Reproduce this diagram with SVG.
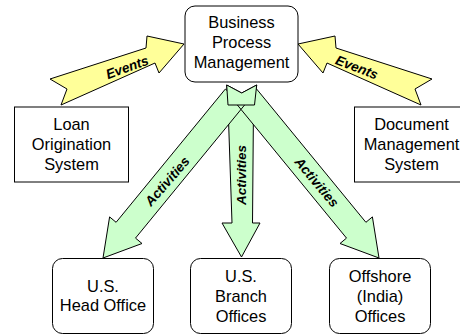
<svg xmlns="http://www.w3.org/2000/svg" width="460" height="335" viewBox="0 0 460 335">
<style>
.box{fill:#ffffff;stroke:#000000;stroke-width:1}
.t{font-family:"Liberation Sans",Arial,sans-serif;font-size:16.4px;fill:#000000;text-anchor:middle}
.lbl{font-family:"Liberation Sans",Arial,sans-serif;font-size:13.5px;font-weight:bold;font-style:italic;fill:#000000;text-anchor:middle}
.ev{fill:#ffff99;stroke:#000000;stroke-width:1;stroke-linejoin:miter}
.ac{fill:#ccffcc;stroke:#000000;stroke-width:1;stroke-linejoin:miter}
</style>
<rect width="460" height="335" fill="#ffffff"/>
<g id="connectors">
  <g id="events-left">
    <polygon class="ev" points="50,79 146,48 147,36 184,44 159,73 155,63 61,105 67,89"/>
    <text class="lbl" transform="translate(127,67) rotate(-20)" y="5">Events</text>
  </g>
  <g id="events-right">
    <polygon class="ev" points="432,79 336,48 335,36 298,44 323,73 327,63 421,105 415,89"/>
    <text class="lbl" transform="translate(357,67) rotate(21)" y="5">Events</text>
  </g>
  <g id="activities-middle">
    <polygon class="ac" points="226.7,85 241.7,93 256.7,85 253.5,105 252.5,223 260,223 241.5,257 222,223 232,223 228,105"/>
  </g>
  <g id="activities-left">
    <polygon class="ac" points="225.3,89.1 244.7,104.9 135.5,238.1 142,243.5 103,258 109.6,216.9 116.1,222.3"/>
  </g>
  <g id="activities-right">
    <polygon class="ac" points="256.7,89.1 237.3,104.9 346.5,238.1 340,243.5 379,258 372.4,216.9 365.9,222.3"/>
  </g>
  <line x1="241" y1="109.4" x2="244.7" y2="104.9" stroke="#000" stroke-width="1"/>
  <polygon class="ac" points="226.7,85 241.7,93 256.7,85 254.5,105 228,105"/>
  <text class="lbl" transform="translate(167,181) rotate(-49)" y="5">Activities</text>
  <text class="lbl" transform="translate(241,175) rotate(-90)" y="5">Activities</text>
  <text class="lbl" transform="translate(317,182) rotate(50)" y="5">Activities</text>
</g>
<g id="bpm">
  <rect class="box" x="185" y="6" width="113" height="76" rx="10"/>
  <text class="t" x="241.5" y="28">Business</text>
  <text class="t" x="241.5" y="48">Process</text>
  <text class="t" x="241.5" y="68">Management</text>
</g>
<g id="loan">
  <rect class="box" x="14.5" y="107" width="114" height="75"/>
  <text class="t" x="71.5" y="130">Loan</text>
  <text class="t" x="71.5" y="150">Origination</text>
  <text class="t" x="71.5" y="170">System</text>
</g>
<g id="dms">
  <rect class="box" x="354.5" y="107" width="114" height="75"/>
  <text class="t" x="411.5" y="130">Document</text>
  <text class="t" x="411.5" y="150">Management</text>
  <text class="t" x="411.5" y="170">System</text>
</g>
<g id="head-office">
  <rect class="box" x="52.5" y="258.5" width="101" height="75" rx="10"/>
  <text class="t" x="103" y="291.5">U.S.</text>
  <text class="t" x="103" y="311">Head Office</text>
</g>
<g id="branch-offices">
  <rect class="box" x="190.5" y="258.5" width="101" height="75" rx="10"/>
  <text class="t" x="241" y="281.5">U.S.</text>
  <text class="t" x="241" y="301.5">Branch</text>
  <text class="t" x="241" y="321.5">Offices</text>
</g>
<g id="offshore-offices">
  <rect class="box" x="329.5" y="258.5" width="101" height="75" rx="10"/>
  <text class="t" x="380" y="281.5">Offshore</text>
  <text class="t" x="380" y="301.5">(India)</text>
  <text class="t" x="380" y="321.5">Offices</text>
</g>
</svg>
